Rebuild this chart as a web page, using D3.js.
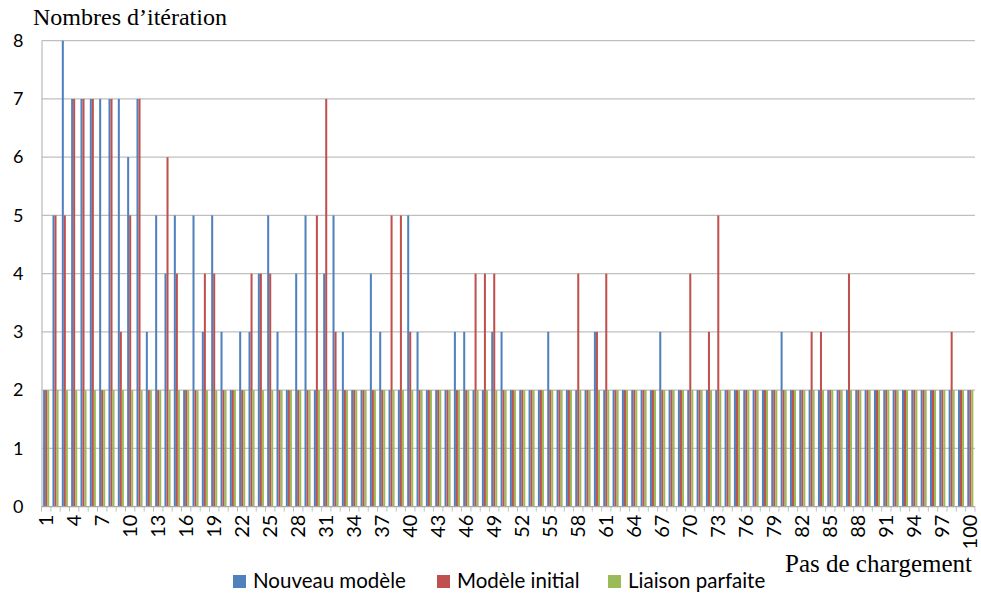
<!DOCTYPE html>
<html>
<head>
<meta charset="utf-8">
<script src="https://cdn.jsdelivr.net/npm/d3@7"></script>
<style>
  body { margin: 0; background: #ffffff; }
  .tick-label { font-family: Lato, "Open Sans", sans-serif; font-size: 18px; fill: #000; }
  .x-label { font-size: 20px; }
  .legend-label { font-family: Lato, "Open Sans", sans-serif; font-size: 20.5px; fill: #000; }
  .axis-title { font-family: "Liberation Serif", "DejaVu Serif", serif; font-size: 24px; fill: #000; }
</style>
</head>
<body>
<svg id="chart" width="981" height="594"></svg>
<script>
// Pas de chargement 1..100
const steps = d3.range(1, 101);

const seriesNames = ['Nouveau modèle', 'Modèle initial', 'Liaison parfaite'];
const seriesColors = ['#4F81BD', '#C0504D', '#9BBB59'];

const nouveauModele = [
  2, 5, 8, 7, 7, 7, 7, 7, 7, 6,
  7, 3, 5, 4, 5, 2, 5, 3, 5, 3,
  2, 3, 3, 4, 5, 3, 2, 4, 5, 2,
  4, 5, 3, 2, 2, 4, 3, 2, 2, 5,
  3, 2, 2, 2, 3, 3, 2, 2, 3, 3,
  2, 2, 2, 2, 3, 2, 2, 2, 2, 3,
  2, 2, 2, 2, 2, 2, 3, 2, 2, 2,
  2, 2, 2, 2, 2, 2, 2, 2, 2, 3,
  2, 2, 2, 2, 2, 2, 2, 2, 2, 2,
  2, 2, 2, 2, 2, 2, 2, 2, 2, 2
];

const modeleInitial = [
  2, 5, 5, 7, 7, 7, 2, 7, 3, 5,
  7, 2, 2, 6, 4, 2, 2, 4, 4, 2,
  2, 2, 4, 4, 4, 2, 2, 2, 2, 5,
  7, 3, 2, 2, 2, 2, 2, 5, 5, 3,
  2, 2, 2, 2, 2, 2, 4, 4, 4, 2,
  2, 2, 2, 2, 2, 2, 2, 4, 2, 3,
  4, 2, 2, 2, 2, 2, 2, 2, 2, 4,
  2, 3, 5, 2, 2, 2, 2, 2, 2, 2,
  2, 2, 3, 3, 2, 2, 4, 2, 2, 2,
  2, 2, 2, 2, 2, 2, 2, 3, 2, 2
];

const liaisonParfaite = [
  2, 2, 2, 2, 2, 2, 2, 2, 2, 2,
  2, 2, 2, 2, 2, 2, 2, 2, 2, 2,
  2, 2, 2, 2, 2, 2, 2, 2, 2, 2,
  2, 2, 2, 2, 2, 2, 2, 2, 2, 2,
  2, 2, 2, 2, 2, 2, 2, 2, 2, 2,
  2, 2, 2, 2, 2, 2, 2, 2, 2, 2,
  2, 2, 2, 2, 2, 2, 2, 2, 2, 2,
  2, 2, 2, 2, 2, 2, 2, 2, 2, 2,
  2, 2, 2, 2, 2, 2, 2, 2, 2, 2,
  2, 2, 2, 2, 2, 2, 2, 2, 2, 2
];

const yTickValues = [0, 1, 2, 3, 4, 5, 6, 7, 8];
const xTickLabels = steps.filter(d => (d - 1) % 3 === 0);

let draw_chart = function() {

    const svg = d3.select('#chart');
    const left = 41.5, right = 975, top = 40.7, bottom = 506.6;

    const xScale = d3.scaleBand()
        .domain(steps)
        .range([left, right])
        .paddingInner(0.35)
        .paddingOuter(0.175);

    const xSub = d3.scaleBand()
        .domain([0, 1, 2])
        .range([0, xScale.bandwidth()]);

    const yScale = d3.scaleLinear()
        .domain([0, 8])
        .range([bottom, top]);

    /* gridlines */
    svg.append('g')
        .selectAll('line')
        .data(yTickValues.filter(d => d > 0))
        .enter().append('line')
          .attr('x1', left)
          .attr('x2', right)
          .attr('y1', d => yScale(d))
          .attr('y2', d => yScale(d))
          .attr('stroke', '#bfbfbf')
          .attr('stroke-width', 1.3);

    /* bars */
    let rows = steps.map((s, i) => ({
        step: s,
        values: [nouveauModele[i], modeleInitial[i], liaisonParfaite[i]]
    }));

    let groups = svg.append('g')
        .selectAll('g')
        .data(rows)
        .enter().append('g')
          .attr('transform', d => `translate(${xScale(d.step)},0)`);

    groups.selectAll('rect')
        .data(d => d.values.map((v, k) => ({ k: k, v: v })))
        .enter().append('rect')
          .attr('x', d => xSub(d.k))
          .attr('width', xSub.bandwidth())
          .attr('y', d => yScale(d.v))
          .attr('height', d => yScale(0) - yScale(d.v))
          .attr('fill', d => seriesColors[d.k]);

    /* axes */
    const yAxis = d3.axisLeft(yScale)
        .tickValues(yTickValues)
        .tickSize(0)
        .tickPadding(18);

    const yAxisG = svg.append('g')
        .attr('transform', `translate(${left},0)`)
        .call(yAxis);
    yAxisG.select('.domain').attr('stroke', '#bfbfbf').attr('stroke-width', 1.3);
    yAxisG.selectAll('text').attr('class', 'tick-label');
    yAxisG.attr('font-size', null).attr('font-family', null);

    svg.append('line')
        .attr('x1', left).attr('x2', right)
        .attr('y1', bottom).attr('y2', bottom)
        .attr('stroke', '#a6a6a6')
        .attr('stroke-width', 1.3);

    // small ticks between the categories
    const step = (right - left) / steps.length;
    svg.append('g')
        .selectAll('line')
        .data(d3.range(steps.length + 1))
        .enter().append('line')
          .attr('x1', d => left + d * step)
          .attr('x2', d => left + d * step)
          .attr('y1', bottom)
          .attr('y2', bottom + 5)
          .attr('stroke', '#bfbfbf');

    svg.append('g')
        .selectAll('text')
        .data(xTickLabels)
        .enter().append('text')
          .attr('class', 'tick-label x-label')
          .attr('text-anchor', 'end')
          .attr('dy', '0.35em')
          .attr('transform', d => `translate(${xScale(d) + xScale.bandwidth() / 2},${bottom + 8}) rotate(-90)`)
          .text(d => d);

    /* titles */
    svg.append('text')
        .attr('class', 'axis-title')
        .attr('x', 33)
        .attr('y', 25)
        .text('Nombres d\u2019itération');

    svg.append('text')
        .attr('class', 'axis-title')
        .attr('text-anchor', 'end')
        .attr('font-size', '25px')
        .style('font-size', '25px')
        .attr('x', 972)
        .attr('y', 572)
        .text('Pas de chargement');

    /* legend */
    const legendX = [233, 437, 608];
    let legend = svg.append('g')
        .selectAll('g')
        .data(seriesNames)
        .enter().append('g')
          .attr('transform', (d, i) => `translate(${legendX[i]},575)`);

    legend.append('rect')
        .attr('width', 13)
        .attr('height', 13)
        .attr('fill', (d, i) => seriesColors[i]);

    legend.append('text')
        .attr('class', 'legend-label')
        .attr('x', 20)
        .attr('y', 13)
        .text(d => d);
};

draw_chart();
</script>
</body>
</html>
